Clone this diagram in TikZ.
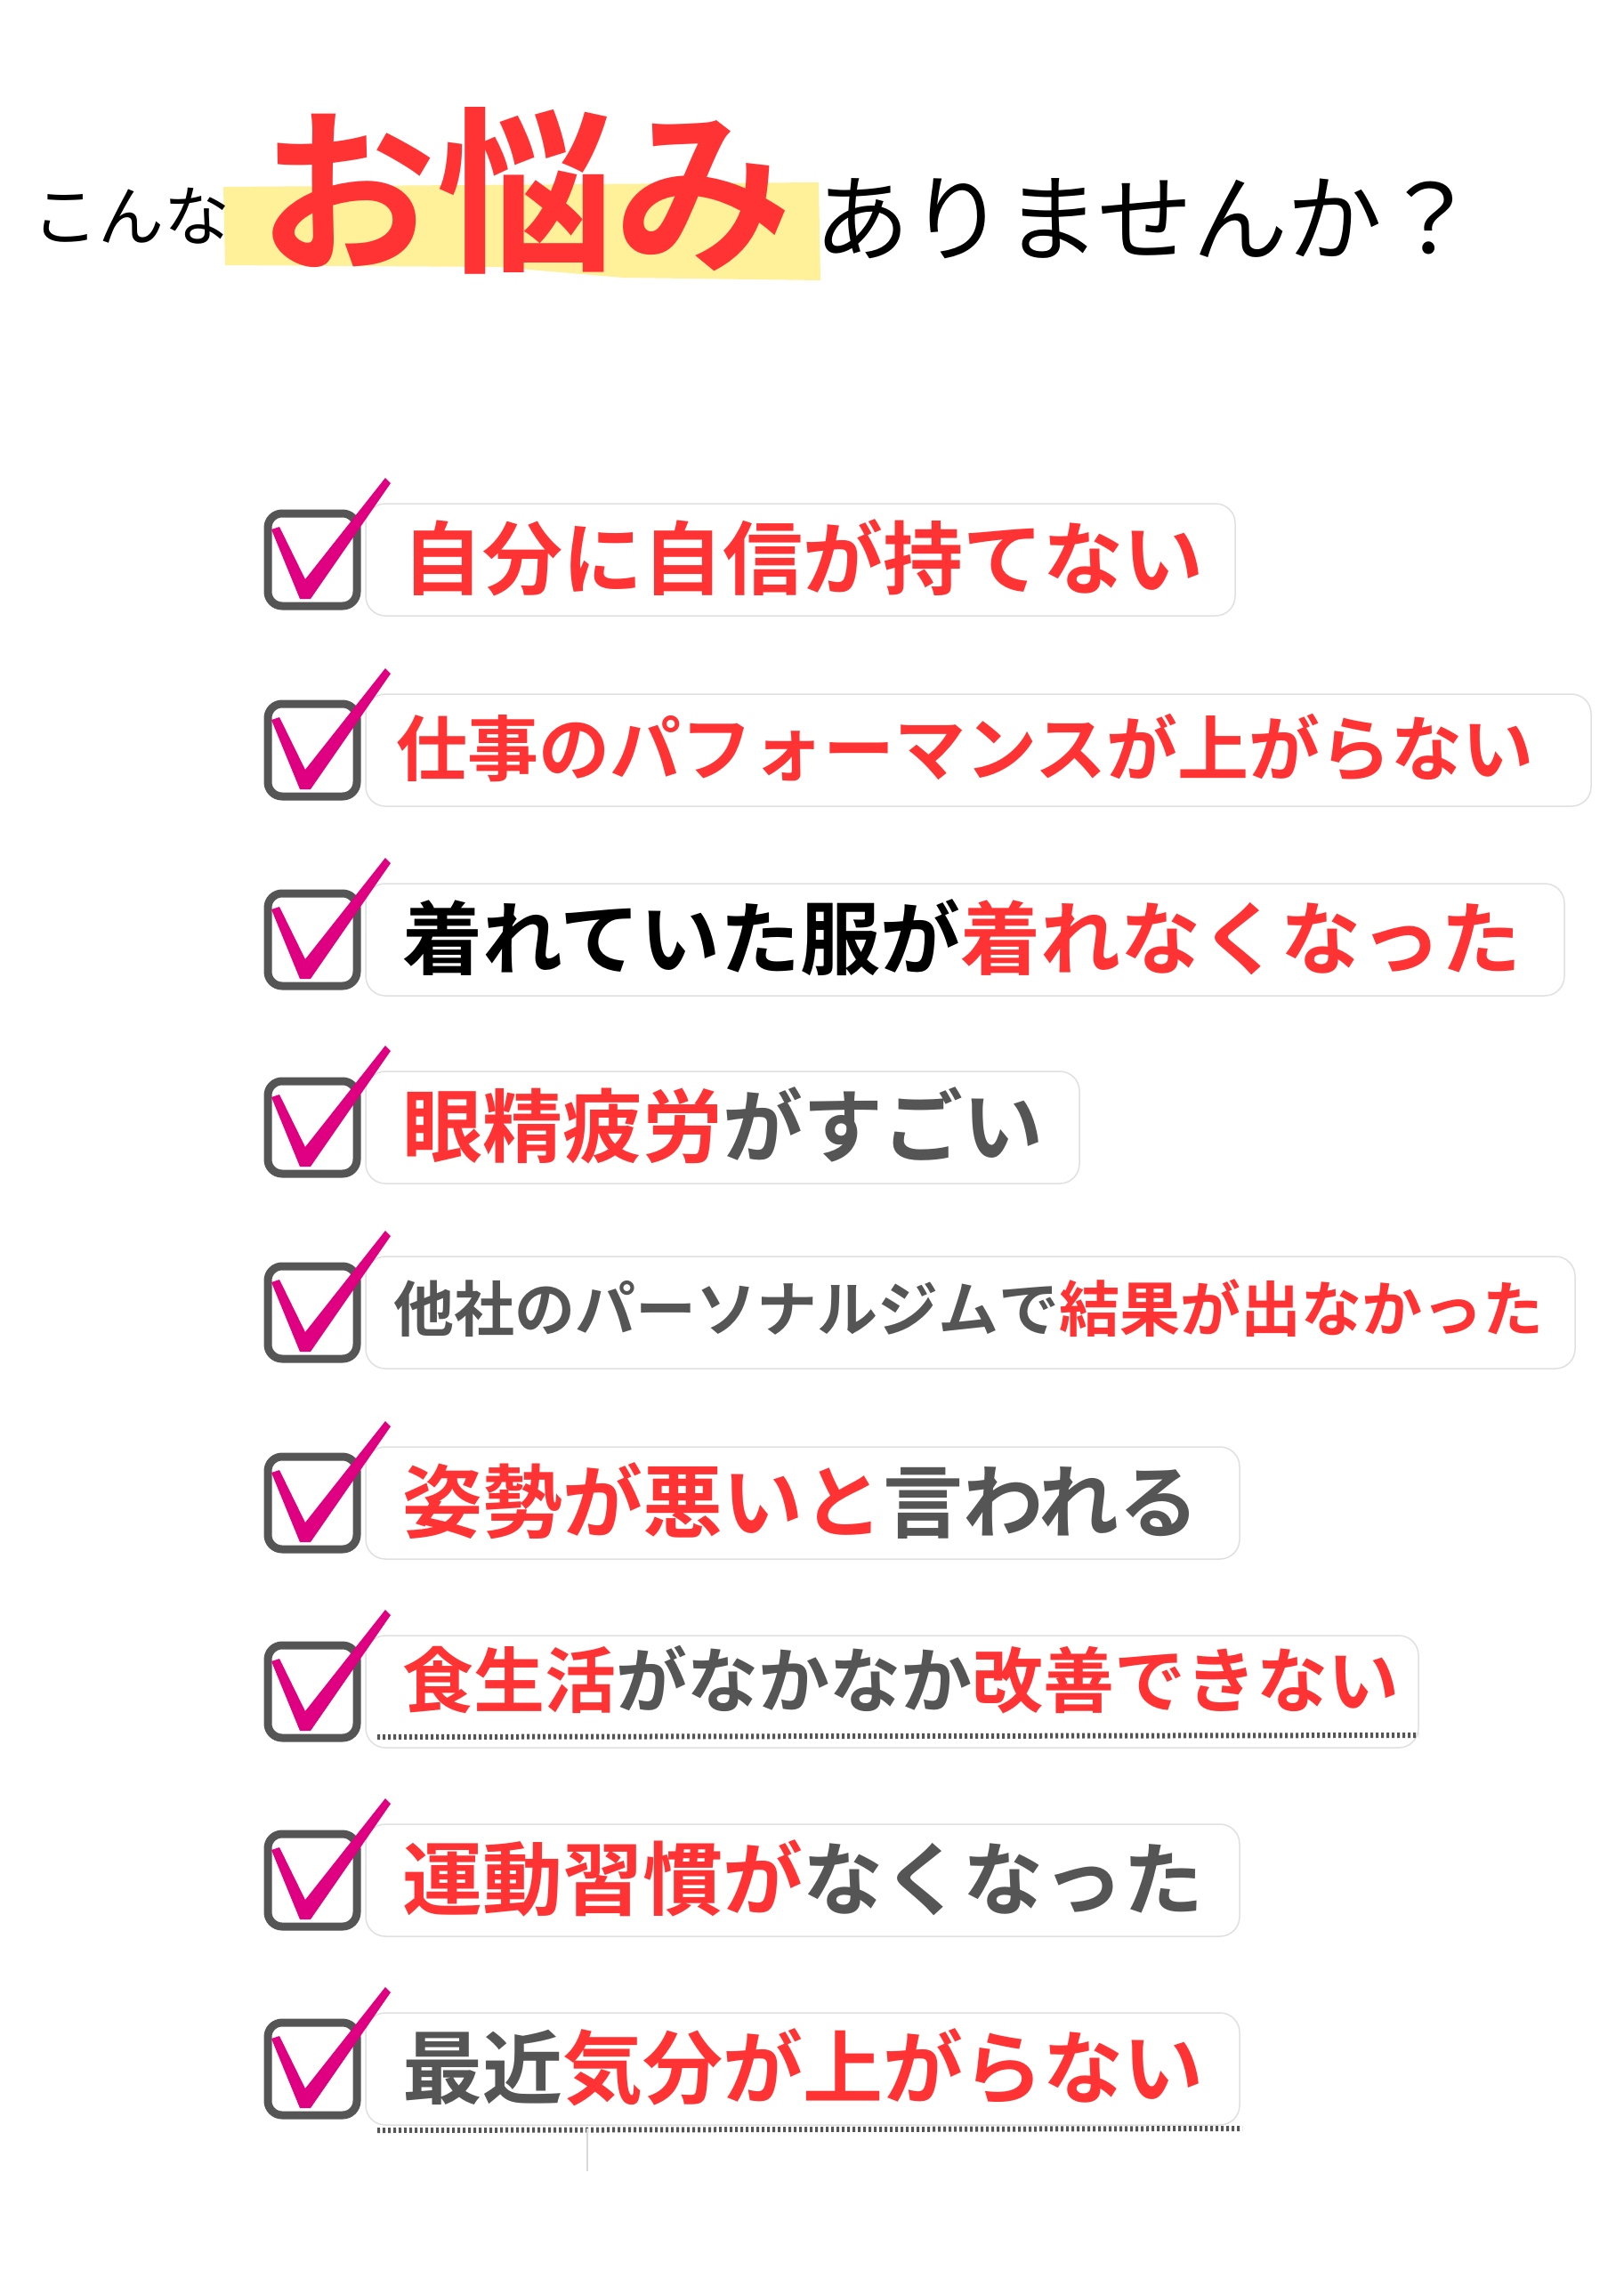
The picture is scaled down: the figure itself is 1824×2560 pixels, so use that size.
\documentclass[tikz,border=0pt]{standalone}
\usepackage{fontspec}
\setmainfont{Noto Sans CJK JP}
\newfontfamily\jpb{Noto Sans CJK JP Bold}
\definecolor{myred}{HTML}{FF3333}
\definecolor{mygray}{HTML}{555555}
\definecolor{mymag}{HTML}{DE0080}
\definecolor{myyel}{HTML}{FFF09A}
\tikzset{
 pill/.style={draw=black!12, line width=1.5pt, fill=white, rounded corners=22pt},
 cbox/.style={draw=mygray, line width=9pt, rounded corners=16pt, minimum width=100pt, minimum height=104pt},
 itxt/.style={anchor=west, inner sep=0pt, font=\jpb\fontsize{90}{90}\selectfont},
 ntxt/.style={anchor=west, inner sep=0pt, font=\jpb\fontsize{80}{80}\selectfont},
 stxt/.style={anchor=west, inner sep=0pt, font=\jpb\fontsize{68}{68}\selectfont},
 dotl/.style={draw=mygray, line width=6pt, dash pattern=on 3pt off 3pt}
}
\newcommand{\chk}[1]{\fill[mymag] ([shift={(-46,-34)}]#1) -- ([shift={(-37,-37)}]#1) -- ([shift={(-8,22)}]#1) -- ([shift={(82,-92)}]#1) -- ([shift={(88,-86)}]#1) -- ([shift={(-2,44)}]#1) -- ([shift={(-14,44)}]#1) -- cycle;}
\begin{document}
\begin{tikzpicture}[x=1pt,y=-1pt]
\useasboundingbox (0,0) rectangle (1824,2560);
% title
\fill[myyel] (251,210) -- (920,205) -- (922,315) -- (700,312) -- (560,300) -- (253,298) -- cycle;
\node[anchor=base west, inner sep=0pt, font=\fontsize{74}{74}\selectfont] (t1) at (36,270) {こんな};
\node[anchor=base west, inner sep=0pt, text=myred, font=\jpb\fontsize{200}{200}\selectfont] (t2) at (290,290) {お悩み};
\node[anchor=base west, inner sep=0pt, font=\fontsize{107}{107}\selectfont] (t3) at (915,285) {ありませんか？};
% items
\foreach \y/\r [count=\i] in {629/1388,843/1788,1056/1758,1267/1213,1475/1770,1689/1393,1901/1594,2113/1393,2325/1393}{
  \draw[pill] (411,\y-63) rectangle (\r,\y+63);
  \node[cbox] (b\i) at (351,\y) {};
  \coordinate (k\i) at (351,\y);
  \chk{k\i}
}
\node[itxt] (i1) at (452,627) {\textcolor{myred}{自分に自信が持てない}};
\node[ntxt] (i2) at (445,841) {\textcolor{myred}{仕事のパフォーマンスが上がらない}};
\node[itxt] (i3) at (452,1054) {着れていた服が\textcolor{myred}{着れなくなった}};
\node[itxt] (i4) at (452,1265) {\textcolor{myred}{眼精疲労}\textcolor{mygray}{がすごい}};
\node[stxt] (i5) at (442,1470) {\textcolor{mygray}{他社のパーソナルジムで}\textcolor{myred}{結果が出なかった}};
\node[itxt] (i6) at (452,1687) {\textcolor{myred}{姿勢が悪いと}\textcolor{mygray}{言われる}};
\node[ntxt] (i7) at (452,1888) {\textcolor{myred}{食生活}\textcolor{mygray}{がなかなか}\textcolor{myred}{改善できない}};
\node[itxt] (i8) at (452,2111) {\textcolor{myred}{運動習慣が}\textcolor{mygray}{なくなった}};
\node[itxt] (i9) at (452,2323) {\textcolor{mygray}{最近}\textcolor{myred}{気分が上がらない}};
% dotted lines
\coordinate (d1a) at (424,1952); \coordinate (d1b) at (1594,1950);
\draw[dotl] (d1a) -- (d1b);
\coordinate (d2a) at (424,2394); \coordinate (d2b) at (1396,2392);
\draw[dotl] (d2a) -- (d2b);
\coordinate (v1) at (660,2392); \coordinate (v2) at (660,2440);
\draw[black!15, line width=1.5pt] (v1) -- (v2);
\end{tikzpicture}
\end{document}
